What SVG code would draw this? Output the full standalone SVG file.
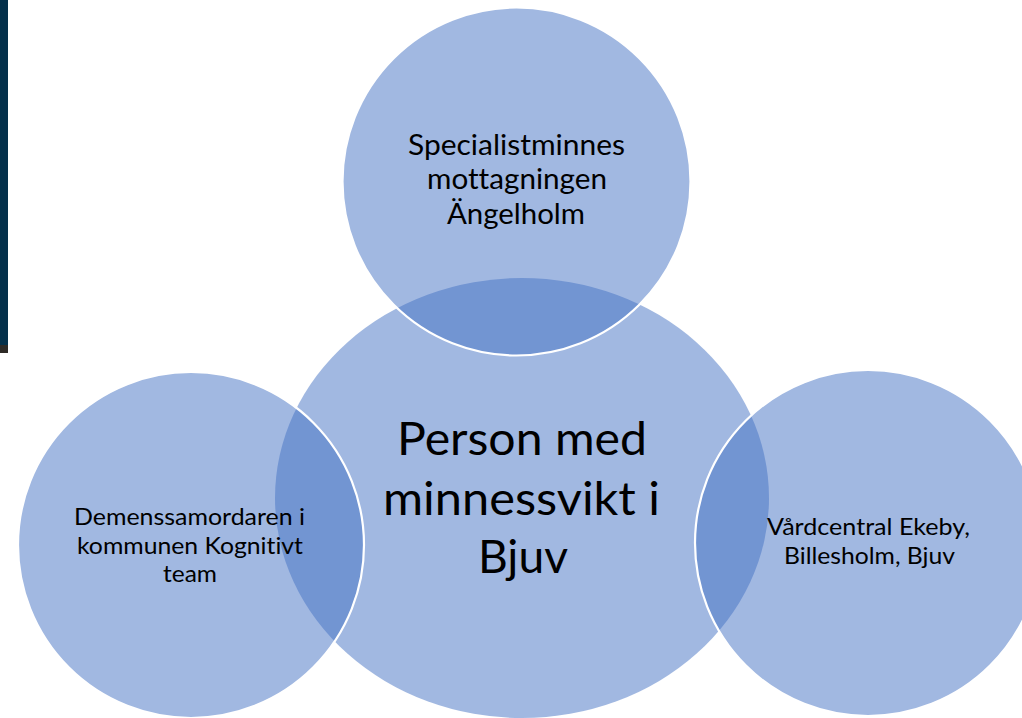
<svg xmlns="http://www.w3.org/2000/svg" width="1022" height="718" viewBox="0 0 1022 718">
  <style>
    .bubble { fill: #4472C4; fill-opacity: 0.5; }
    .ring { stroke: #FFFFFF; stroke-width: 2.2; }
    .lbl { font-family: Lato, "Open Sans", "Liberation Sans", sans-serif; fill: #000000; text-anchor: middle; font-variant-ligatures: none; font-feature-settings: "liga" 0, "clig" 0; }
    .big { font-size: 47px; }
    .mid { font-size: 28px; }
    .small { font-size: 22.5px; }
  </style>
  <rect x="0" y="0" width="1022" height="718" fill="#FFFFFF"/>
  <g id="edge-strip">
    <rect x="0" y="0" width="8" height="353" fill="#04304A"/>
    <rect x="0" y="345" width="8" height="8" fill="#2E2A26"/>
  </g>
  <g id="connectors"></g>
  <g id="node-center">
    <ellipse class="bubble" cx="522" cy="498" rx="247" ry="220"/>
    <text class="lbl big" x="522" y="455" textLength="250" lengthAdjust="spacingAndGlyphs">Person med</text>
    <text class="lbl big" x="521.5" y="515" textLength="277" lengthAdjust="spacingAndGlyphs">minnessvikt i</text>
    <text class="lbl big" x="523" y="573" textLength="90" lengthAdjust="spacingAndGlyphs">Bjuv</text>
  </g>
  <g id="node-top">
    <circle class="bubble ring" cx="516.5" cy="181.5" r="174"/>
    <text class="lbl mid" x="516.5" y="155" textLength="217" lengthAdjust="spacingAndGlyphs">Specialistminnes</text>
    <text class="lbl mid" x="517" y="189" textLength="180" lengthAdjust="spacingAndGlyphs">mottagningen</text>
    <text class="lbl mid" x="516" y="224" textLength="138" lengthAdjust="spacingAndGlyphs">Ängelholm</text>
  </g>
  <g id="node-left">
    <circle class="bubble ring" cx="191" cy="545" r="173"/>
    <text class="lbl small" x="189.5" y="525" textLength="231" lengthAdjust="spacingAndGlyphs">Demenssamordaren i</text>
    <text class="lbl small" x="190" y="554" textLength="226" lengthAdjust="spacingAndGlyphs">kommunen Kognitivt</text>
    <text class="lbl small" x="190" y="582" textLength="54" lengthAdjust="spacingAndGlyphs">team</text>
  </g>
  <g id="node-right">
    <circle class="bubble ring" cx="868" cy="543" r="173"/>
    <text class="lbl small" x="868.5" y="535" textLength="203" lengthAdjust="spacingAndGlyphs">Vårdcentral Ekeby,</text>
    <text class="lbl small" x="869.5" y="564" textLength="171" lengthAdjust="spacingAndGlyphs">Billesholm, Bjuv</text>
  </g>
</svg>
